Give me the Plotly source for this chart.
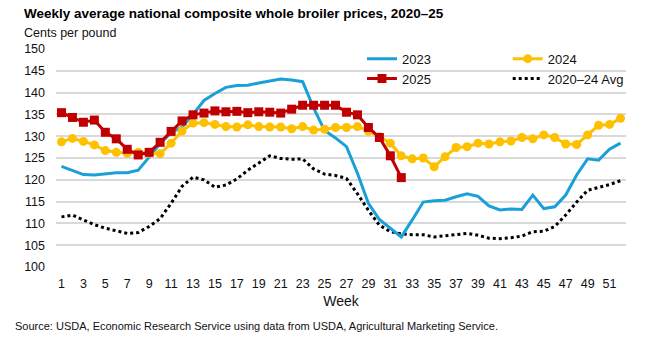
import plotly.graph_objects as go

# Week numbers
weeks = list(range(1, 53))
weeks_2025 = list(range(1, 33))
week_ticks = list(range(1, 52, 2))

# Cents per pound
price_2023 = [123.1, 122.1, 121.2, 121.1, 121.3, 121.6, 121.6, 122.2, 125.2, 128.3,
              130.8, 132.1, 135.0, 138.2, 139.8, 141.2, 141.6, 141.7, 142.2, 142.7,
              143.1, 142.9, 142.5, 136.5, 131.3, 129.6, 127.6, 121.5, 114.6, 110.9,
              109.0, 106.9, 110.8, 114.9, 115.2, 115.3, 116.1, 116.8, 116.2, 114.0,
              113.1, 113.3, 113.2, 116.5, 113.4, 113.8, 116.5, 121.1, 124.8, 124.5,
              127.0, 128.4]

price_2024 = [128.7, 129.5, 128.8, 128.0, 126.7, 126.3, 126.1, 126.3, 126.1, 126.0,
              128.4, 131.2, 133.0, 133.1, 132.7, 132.2, 132.1, 132.6, 132.2, 132.1,
              132.1, 131.7, 132.2, 131.4, 131.6, 132.0, 132.0, 132.2, 131.2, 129.9,
              128.4, 125.5, 124.8, 125.0, 123.0, 125.3, 127.4, 127.6, 128.4, 128.2,
              128.7, 128.9, 129.7, 129.4, 130.3, 129.7, 128.2, 128.1, 130.3, 132.5,
              132.7, 134.1]

price_2025 = [135.4, 134.3, 133.2, 133.7, 130.9, 129.4, 127.0, 125.7, 126.3, 128.6,
              131.1, 133.5, 134.9, 135.3, 135.8, 135.6, 135.7, 135.4, 135.6, 135.5,
              135.3, 136.2, 137.1, 137.1, 137.1, 137.1, 135.5, 134.9, 132.0, 129.7,
              125.5, 120.5]

avg_2020_24 = [111.5, 111.9, 110.8, 109.7, 108.9, 108.3, 107.7, 107.9, 109.3, 111.1,
               114.6, 118.5, 120.6, 120.0, 118.3, 118.8, 120.2, 122.2, 123.8, 125.5,
               124.9, 124.7, 124.8, 122.5, 121.3, 121.0, 120.3, 116.8, 113.0, 109.6,
               108.1, 107.6, 107.4, 107.4, 106.9, 107.2, 107.5, 107.7, 107.3, 106.6,
               106.5, 106.7, 107.1, 108.1, 108.2, 109.3, 111.9, 114.9, 117.6, 118.3,
               118.9, 119.8]

FONT = "Liberation Sans, Arial, sans-serif"
BLUE = "#1aa0d8"
GOLD = "#ffc000"
RED = "#c00000"

fig = go.Figure()

fig.add_trace(go.Scatter(
    x=weeks, y=avg_2020_24, name="2020\u201324 Avg", mode="lines",
    line=dict(color="black", width=3, dash="dot"), legend="legend2", legendrank=2,
))
fig.add_trace(go.Scatter(
    x=weeks, y=price_2023, name="2023", mode="lines",
    line=dict(color=BLUE, width=3), legend="legend", legendrank=1,
))
fig.add_trace(go.Scatter(
    x=weeks, y=price_2024, name="2024", mode="lines+markers",
    line=dict(color=GOLD, width=3), marker=dict(symbol="circle", size=9, color=GOLD),
    legend="legend2", legendrank=1,
))
fig.add_trace(go.Scatter(
    x=weeks_2025, y=price_2025, name="2025", mode="lines+markers",
    line=dict(color=RED, width=3), marker=dict(symbol="square", size=9, color=RED),
    legend="legend", legendrank=2,
))

# plot area in pixels: x 55.5..626.5, y 49.3..266.7
L, R, T, B = 55.5, 626.5, 49.3, 266.7
W, H = 668, 342


def px(x):
    return (x - L) / (R - L)


def py(y):
    return (B - y) / (B - T)


legend_common = dict(
    orientation="v", bgcolor="rgba(0,0,0,0)", borderwidth=0,
    font=dict(family=FONT, size=13, color="#111"),
    xanchor="left", yanchor="top", tracegroupgap=0, itemwidth=30,
    traceorder="normal",
)

fig.update_layout(
    width=W, height=H,
    margin=dict(l=L, r=W - R, t=T, b=H - B, autoexpand=False),
    paper_bgcolor="white", plot_bgcolor="white",
    font=dict(family=FONT, size=12, color="#111"),
    showlegend=True,
    legend=dict(x=px(362), y=py(44), **legend_common),
    legend2=dict(x=px(508), y=py(44), **legend_common),
    xaxis=dict(
        range=[0.5, 52.5], tickmode="array", tickvals=week_ticks,
        ticktext=[str(w) for w in week_ticks],
        showgrid=False, zeroline=False, showline=False, ticks="",
        tickfont=dict(family=FONT, size=12.5, color="#111"),
        ticklabelstandoff=7,
        title=dict(text="Week", font=dict(family=FONT, size=14, color="#111"), standoff=6),
    ),
    yaxis=dict(
        range=[100, 150], tickmode="array", tickvals=list(range(100, 151, 5)),
        showgrid=True, gridcolor="#d9d9d9", gridwidth=1.5,
        zeroline=False, showline=False, ticks="",
        tickfont=dict(family=FONT, size=12.5, color="#111"),
        ticklabelstandoff=10,
    ),
    annotations=[
        dict(text="<b>Weekly average national composite whole broiler prices, 2020\u201325</b>",
             x=px(21), y=py(14), xref="paper", yref="paper", xanchor="left", yanchor="middle",
             showarrow=False, font=dict(family=FONT, size=13.5, color="black")),
        dict(text="Cents per pound",
             x=px(21), y=py(33), xref="paper", yref="paper", xanchor="left", yanchor="middle",
             showarrow=False, font=dict(family=FONT, size=12.5, color="#111")),
        dict(text="Source: USDA, Economic Research Service using data from USDA, Agricultural Marketing Service.",
             x=px(12), y=py(326), xref="paper", yref="paper", xanchor="left", yanchor="middle",
             showarrow=False, font=dict(family=FONT, size=11, color="#111")),
    ],
)

fig.write_html("out.html")
